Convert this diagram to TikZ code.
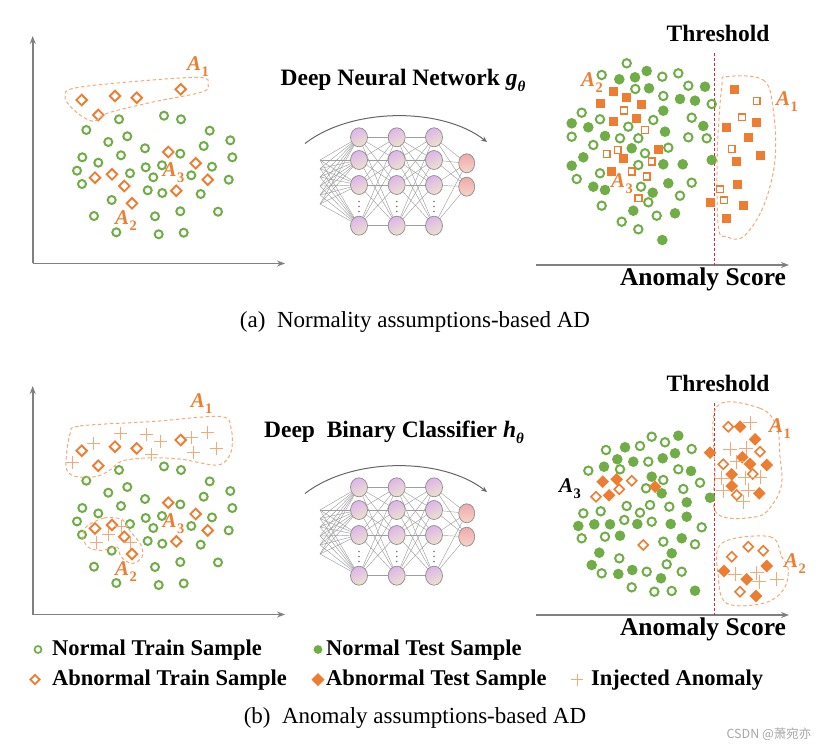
\documentclass[tikz,border=0pt]{standalone}
\usepackage{fontspec}
\setmainfont{Liberation Serif}
\newfontfamily\cjk{Noto Sans CJK SC}
\usetikzlibrary{shapes.geometric,arrows.meta,backgrounds}
\definecolor{gr}{RGB}{112,173,71}
\definecolor{orc}{RGB}{237,125,49}
\definecolor{lor}{RGB}{244,170,120}
\definecolor{axg}{RGB}{128,128,128}
\definecolor{thr}{RGB}{205,40,60}
\definecolor{nodetop}{RGB}{222,180,234}
\definecolor{nodebot}{RGB}{236,226,206}
\definecolor{outtop}{RGB}{238,170,172}
\definecolor{outbot}{RGB}{246,212,200}
\newcommand\Alab[1]{\textit{A}\kern0.3pt\raisebox{-0.28em}{\fontsize{14.5}{14.5}\selectfont\upshape #1}}
\begin{document}
\begin{tikzpicture}[x=1pt,y=-1pt,
  ocirc/.style={draw=gr,line width=2pt},
  fcirc/.style={fill=gr},
  odia/.style={draw=orc,line width=1.9pt},
  fdia/.style={fill=orc},
  fsq/.style={fill=orc},
  osq/.style={draw=orc,line width=1.6pt},
  plusm/.style={draw=lor,line width=0.9pt},
  aloop/.style={draw=lor,line width=1pt,dash pattern=on 3.5pt off 2.5pt},
  alabel/.style={text=orc,inner sep=0pt,font=\fontsize{21}{21}\selectfont\bfseries},
  axisar/.style={draw=axg,line width=1.6pt,-{Stealth[length=8pt,width=6pt]}},
  thrline/.style={draw=thr,line width=1pt,dash pattern=on 3pt off 2pt},
  titlef/.style={inner sep=0pt,font=\fontsize{23.5}{24}\selectfont\bfseries},
  legf/.style={inner sep=0pt,anchor=west,font=\fontsize{22.5}{23}\selectfont\bfseries},
  capf/.style={inner sep=0pt,font=\fontsize{23}{24}\selectfont},
  nn/.style={ellipse,draw=black!45,line width=0.7pt,top color=nodetop,bottom color=nodebot,shading angle=25,minimum width=17pt,minimum height=19pt,inner sep=0pt},
  no/.style={ellipse,draw=black!45,line width=0.7pt,top color=outtop,bottom color=outbot,minimum width=16pt,minimum height=19pt,inner sep=0pt},
  edge/.style={draw=black!38,line width=0.45pt},
  vdot/.style={fill=black!55},
  arcst/.style={draw=black!60,line width=1pt,-{Stealth[length=6pt,width=5pt]}}
]
\useasboundingbox (0,0) rectangle (832,751);

% ================= LEFT PANELS (axes) =================
\coordinate (la0) at (32.7,263.5);
\coordinate (lay) at (32.7,36);
\coordinate (lax) at (285,263.5);
\draw[axisar] (la0) -- (lay);
\draw[axisar] (la0) -- (lax);
\coordinate (lb0) at (32.7,614.5);
\coordinate (lby) at (32.7,386);
\coordinate (lbx) at (285,614.5);
\draw[axisar] (lb0) -- (lby);
\draw[axisar] (lb0) -- (lbx);

% common scatter of the left panels
\foreach \dy in {0,350.7}{
\begin{scope}[shift={(0,\dy)}]
\foreach \x/\y in {119/119.3,164/115.7,181/119.3,86.3/130,209.7/130.7,108.3/142,127.3/136.3,230.3/140.3,145/148.3,203.7/146,82.3/157.3,98.3/162.7,121/155.3,180.3/153.7,232.3/157.3,77/170.7,145.7/167.3,162/165.3,212/166.7,82/184,130/173.3,153.3/177.3,191.3/175.3,228.7/179.7,147.7/190.3,162.3/193,200.7/194,111.7/200,94/216,155/216.3,180.3/211.3,218/211.7,116.3/232.3,158.7/234.3,183.7/232.7}
  {\draw[ocirc] (\x,\y) circle (4pt);}
\foreach \x/\y in {168.3/152,195.7/163.3,95/177.7,112/174.3,124.3/186,207.7/179.7,176.3/190.7,132/203.3,81.7/100,115/96,136.7/97.7,180.7/89.3,98.3/115}
  {\draw[odia] (\x,\y) +(0,-5.3) -- +(5.3,0) -- +(0,5.3) -- +(-5.3,0) -- cycle;}
\end{scope}}

% loops and labels panel (a) left
\draw[aloop] plot[smooth cycle,tension=0.6] coordinates {(65,96) (75,88) (140,81) (200,77.5) (208,84) (202,92) (153,102) (108,113) (95,121) (83,117) (70,106)};
\node[alabel] (a1l) at (198,67) {\Alab{1}};
\node[alabel] (a3l) at (173.5,173) {\Alab{3}};
\node[alabel] (a2l) at (126,221) {\Alab{2}};

% panel (b) left: injected anomalies, loops, labels
\foreach \x/\y in {120.7/433.3,146/434,160.5/441.5,191.7/437.3,207/432.3,93.3/443.3,216/448.3,151.7/454.3,193.5/452,72.2/462.5,96.7/542,108.5/534,121.5/526,130/542.5}
  {\draw[plusm] (\x,\y) +(-6.5,0) -- +(6.5,0) +(0,-6.5) -- +(0,6.5);}
\draw[aloop] plot[smooth cycle,tension=0.55] coordinates {(70,434) (80,426) (153,421.5) (220,416.5) (231,428) (231,452) (218,465) (180,459) (147,458) (122,461) (110,470) (96,476.5) (74,476) (66,466)};
\draw[aloop] plot[smooth cycle,tension=0.55] coordinates {(86,527) (104,518) (122,519.5) (130,531) (141,545) (142,557) (132,563.5) (121,557) (117,547) (101,550.5) (88,547) (83,537)};
\node[alabel] (b1l) at (201.7,403.3) {\Alab{1}};
\node[alabel] (b3l) at (173.5,524) {\Alab{3}};
\node[alabel] (b2l) at (126,571.5) {\Alab{2}};

% ================= NETWORKS =================
\foreach \p/\dy in {a/0,b/350}{
\begin{scope}[shift={(0,\dy)},name prefix=\p-]
\foreach \c/\cx in {1/359,2/396.7,3/434}{
  \foreach \r/\ry in {1/137.3,2/160,3/185,4/225.7}{\node[nn] (n\c\r) at (\cx,\ry) {};}
  \foreach \dd in {201.5,206.5,211.5}{\fill[vdot] (\cx,\dd) circle (0.9pt);}
}
\node[no] (o1) at (466.7,163.3) {};
\node[no] (o2) at (466.7,186.7) {};
\foreach \k/\ky in {1/160,2/168.5,3/177,4/186,5/195,6/204}{\coordinate (i\k) at (320,\ky);}
\begin{scope}[on background layer]
\foreach \k in {1,...,6}{\foreach \r in {1,...,4}{\draw[edge] (i\k) -- (n1\r);}}
\foreach \r in {1,...,4}{\foreach \s in {1,...,4}{\draw[edge] (n1\r) -- (n2\s); \draw[edge] (n2\r) -- (n3\s);}}
\foreach \r in {1,...,4}{\foreach \s in {1,2}{\draw[edge] (n3\r) -- (o\s);}}
\end{scope}
\coordinate (as) at (305,143.5);
\coordinate (ae) at (487,142);
\draw[arcst] (as) .. controls (352,107) and (442,107) .. (ae);
\end{scope}}

\node[titlef] (ta) at (403,80) {Deep Neural Network \textit{g}\raisebox{-0.25em}{\fontsize{15}{15}\selectfont\textit{θ}}};
\node[titlef] (tb) at (394,432) {Deep\ \ Binary Classifier \textit{h}\raisebox{-0.25em}{\fontsize{15}{15}\selectfont\textit{θ}}};

% ================= RIGHT PANEL (a) =================
\coordinate (ra0) at (536,265);
\coordinate (rax) at (789,265);
\draw[axisar] (ra0) -- (rax);
\coordinate (rt1) at (714.3,53);
\coordinate (rt2) at (714.3,265);
\draw[thrline] (rt1) -- (rt2);
\node[titlef] (thra) at (718,33) {Threshold};
\node[titlef,font=\fontsize{25.5}{26}\selectfont\bfseries] (asa) at (703,279) {Anomaly Score};

\draw[aloop] plot[smooth cycle,tension=0.6] coordinates {(726.7,76.7) (763.3,80) (773.3,110) (775,160) (763.3,206.7) (743.3,236.7) (726.7,236.7) (718.3,226.7) (717.3,153.3) (721.7,86.7)};

\foreach \x/\y in {626.7/63.3,601.7/75,662.3/76.7,678.3/73.3,635.3/89,663.3/96,688.3/85.7,711.7/104,581.7/112.7,600/119.3,628.3/126.7,571.7/136.7,620/138.3,638.3/138.3,653.3/120,691.7/117.7,668.3/147.7,688.3/137.3,706.7/138.3,593.3/145,645/153.3,638.3/165,600/173.3,576.7/179,691.7/182.7,641/186.7,680/195.7,648.3/202.3,601.7/205.7,621.7/221.7,656.7/215.7,638.3/229.3}
  {\draw[ocirc] (\x,\y) circle (4.2pt);}
\foreach \x/\y in {619.3/79.3,635/77.3,646.7/71,649/88.3,680/99,695/100.7,705/86.7,663.3/110.7,571.7/123.3,588.3/127.3,605/136,665/131.7,703.3/126,631.7/148.3,583.3/157.3,571.7/165.7,663.3/164.3,682.7/164.3,711.7/160,593.3/186.7,605/190,668.3/183.3,652.7/192.7,633.3/210.7,675/213.3,662.3/240}
  {\fill[fcirc] (\x,\y) circle (5.3pt);}
\foreach \x/\y in {613.3/91.7,626.7/97.7,600/103.3,641.7/105,613.3/121.7,636.7/118.3,658.3/149.3,623.3/158.3,611.7/171.7,734.3/89.3,726.7/127.7,756.7/122.7,748.3/137.3,760/155.7,736/161.7,737.3/184.3,743.3/205.7,726/219,710.3/202.7}
  {\fill[fsq] (\x,\y) +(-4.5,-4.5) rectangle +(4.5,4.5);}
\foreach \x/\y in {624/110.7,645/130,606.7/154,617.7/150,651.7/161.7,631.7/171.7,646.7/176.7,638.3/198.3,756.7/101,742/117.3,731.7/149,720/189.3,724/200.3}
  {\draw[osq] (\x,\y) +(-3.4,-3.4) rectangle +(3.4,3.4);}

\node[alabel] (ra2) at (592,83) {\Alab{2}};
\node[alabel] (ra1) at (787,102) {\Alab{1}};
\node[alabel] (ra3) at (622,183.5) {\Alab{3}};

% ================= RIGHT PANEL (b) =================
\coordinate (rb0) at (536,615);
\coordinate (rbx) at (789,615);
\draw[axisar] (rb0) -- (rbx);
\coordinate (rs1) at (714.3,403);
\coordinate (rs2) at (714.3,615);
\draw[thrline] (rs1) -- (rs2);
\node[titlef] (thrb) at (718,383) {Threshold};
\node[titlef,font=\fontsize{25.5}{26}\selectfont\bfseries] (asb) at (703,629) {Anomaly Score};

\draw[aloop] plot[smooth cycle,tension=0.6] coordinates {(716.7,406.7) (760,408.3) (776.7,426.7) (780,456.7) (781.7,483.3) (773.3,503.3) (756.7,516.7) (716.7,513.3) (715,470)};
\draw[aloop] plot[smooth cycle,tension=0.6] coordinates {(721.7,543.3) (770,536.7) (781.7,556.7) (788.3,570) (783.3,590) (763.3,603.3) (726.7,603.3) (718.3,576.7)};

\foreach \x/\y in {651.7/436.7,665/442.3,691.7/449,640/446,606/450,620/469.3,588.3/470.7,648.3/461.7,678.3/469.3,700/482.7,646/488.3,683.3/489,663.3/480,626.7/506,650/505,669.3/506.7,640/512.7,583.3/513.3,600.7/511.3,624.3/520,651.7/521.7,701.7/527.3,581.7/538.3,605/536.7,663.3/541.7,695/544.3,619.3/558.3,666.7/564.3,601.7/573.3,646.7/571.7,681.7/571.7,631.7/587.3,654.3/591.7,671.7/591}
  {\draw[ocirc] (\x,\y) circle (4.2pt);}
\foreach \x/\y in {678.3/435.7,625/447.3,675/453.3,617.3/459.3,633.3/461.7,662.7/458.3,604/466.7,691/471,651.7/476.7,661.7/493.3,686.7/502.3,710/497.7,686.7/516.7,578.3/526,594.3/524.3,610/524.3,637.3/524,670.7/524,620/535.7,681.7/538.3,599.3/552.7,671.7/553.3,591.7/565,618.3/574,632.3/570,661/578.3,695/590.7}
  {\fill[fcirc] (\x,\y) circle (5.3pt);}
\foreach \x/\y in {710/452.7,602.7/481.7,616.7/479.3,609/495.3,655/486.7,740/426.7,755/439.3,742.3/457.3,750/464,766.7/465,731.7/474.3,731.7/486,759.3/493.3,724/571,746.7/579.3,766.7/566,756/596}
  {\fill[fdia] (\x,\y) +(0,-6.3) -- +(6.3,0) -- +(0,6.3) -- +(-6.3,0) -- cycle;}
\foreach \x/\y in {596/496.7,631.7/480.7,619.3/489.3,728.3/426.7,760/451.7,723.3/464.3,752.7/474,736.7/495,643.3/545,731.7/556.7,748.3/546.7,763.3/550.7,740/591.7}
  {\draw[odia,line width=1.6pt] (\x,\y) +(0,-5) -- +(5,0) -- +(0,5) -- +(-5,0) -- cycle;}
\foreach \x/\y in {750/422.7,730/449,746/448.3,736.7/461.7,721.7/478.3,745/477.7,760/477.3,723.3/490.7,748.3/490,743.3/501.7,735/574,756.7/572.7,776.7/579.3,759.3/581.7}
  {\draw[plusm] (\x,\y) +(-7,0) -- +(7,0) +(0,-7) -- +(0,7);}

\node[alabel,text=black] (rb3) at (570,488.5) {\Alab{3}};
\node[alabel] (rb1) at (780,428.5) {\Alab{1}};
\node[alabel] (rb2) at (795,563.5) {\Alab{2}};

% ================= CAPTIONS =================
\node[capf] (capa) at (415,322) {(a)\enspace Normality assumptions-based AD};
\node[capf] (capb) at (415,718) {(b)\enspace Anomaly assumptions-based AD};

% ================= LEGEND =================
\draw[ocirc,line width=1.7pt] (38,649.5) circle (3.5pt);
\node[legf] (l1) at (52,650) {Normal Train Sample};
\fill[fcirc] (318,649.5) circle (4.4pt);
\node[legf] (l2) at (326,650) {Normal Test Sample};
\draw[odia,line width=1.7pt] (35,679.5) +(0,-4.6) -- +(4.6,0) -- +(0,4.6) -- +(-4.6,0) -- cycle;
\node[legf] (l3) at (52,680) {Abnormal Train Sample};
\fill[fdia] (318,679.5) +(0,-6.5) -- +(6.5,0) -- +(0,6.5) -- +(-6.5,0) -- cycle;
\node[legf] (l4) at (326,680) {Abnormal Test Sample};
\draw[plusm] (577,679.5) +(-6,0) -- +(6,0) +(0,-6) -- +(0,6);
\node[legf] (l5) at (591,680) {Injected Anomaly};

% watermark
\node[inner sep=0pt,text=black!35,font=\cjk\fontsize{12.5}{13}\selectfont] (wm) at (769,734) {CSDN @萧宛亦};
\end{tikzpicture}
\end{document}
